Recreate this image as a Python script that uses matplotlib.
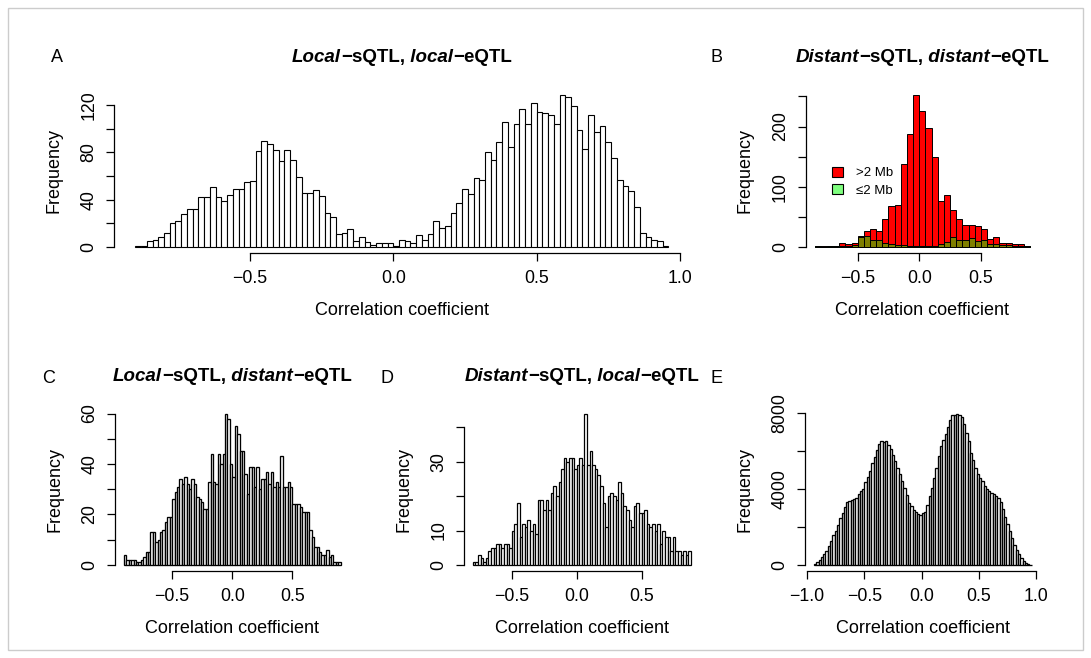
import matplotlib
matplotlib.use('Agg')
import matplotlib.pyplot as plt
import numpy as np
from matplotlib.patches import Patch, Rectangle

plt.rcParams['font.family'] = ['Liberation Sans', 'DejaVu Sans']

# ---------------- data ----------------
# Panel A: local-sQTL, local-eQTL (bins of 0.02 starting at -0.90)
A_start, A_bw = -0.90, 0.02
A_counts = [1, 1, 5, 6, 8, 12, 20, 22, 28, 32, 32, 42, 42, 51, 42, 39, 44, 49, 49, 55,
            56, 81, 90, 87, 82, 73, 82, 74, 59, 46, 46, 48, 43, 29, 25, 11, 12, 15, 5, 8,
            4, 2, 3, 3, 3,
            1, 6, 5, 3, 10, 6, 11, 22, 16, 18, 29, 37, 49, 45, 58, 57, 80, 74, 89, 106,
            85, 104, 117, 104, 122, 114, 113, 112, 104, 129, 127, 119, 99, 83, 112, 97,
            102, 89, 75, 57, 52, 47, 34, 12, 8, 6, 5, 1]

# Panel B: distant-sQTL, distant-eQTL (bins of 0.05 starting at -0.85)
B_start, B_bw = -0.85, 0.05
B_far = [1, 1, 2, 2, 6, 4, 6, 18, 27, 30, 27, 47, 68, 70, 138, 188, 253, 225, 197, 150,
         76, 86, 62, 46, 37, 37, 34, 30, 13, 16, 6, 6, 5, 5, 2]
B_near = [1, 0, 1, 1, 2, 1, 3, 16, 18, 12, 11, 6, 4, 3, 3, 2, 2, 2, 2, 2,
          4, 8, 16, 11, 11, 14, 9, 12, 4, 4, 3, 3, 2, 2, 1]
B_labels = ['>2 Mb', '\u22642 Mb']

# Panel C: local-sQTL, distant-eQTL
C_start, C_bw = -0.90, 0.02
C_counts = [4, 2, 2, 2, 2, 1, 1, 2, 3, 5, 5, 13, 13, 9, 10, 13, 14, 17, 19, 19,
            26, 29, 31, 34, 32, 35, 32, 30, 34, 32, 27, 26, 25, 22, 22, 33, 44, 33, 32, 44,
            40, 44, 60, 58, 40, 35, 55, 52, 45, 45, 36, 28, 39, 39, 31, 39, 30, 34, 34, 37,
            32, 37, 31, 33, 31, 43, 31, 31, 33, 31, 24, 24, 24, 23, 21, 21, 21, 14, 11, 7,
            7, 5, 4, 4, 6, 3, 4, 1, 1, 1]

# Panel D: distant-sQTL, local-eQTL
D_start, D_bw = -0.80, 0.02
D_counts = [1, 1, 3, 2, 1, 2, 4, 5, 5, 6, 6, 5, 6, 6, 5, 10, 12, 18, 8, 12,
            11, 13, 10, 12, 9, 19, 19, 16, 19, 16, 21, 23, 20, 24, 28, 31, 30, 31, 31, 28,
            29, 31, 29, 44, 29, 33, 29, 28, 26, 23, 18, 11, 20, 21, 20, 19, 24, 21, 17, 16,
            13, 11, 17, 18, 15, 15, 16, 12, 11, 12, 10, 12, 6, 10, 8, 8, 4, 8, 4, 4,
            3, 4, 3, 4]

# Panel E: all pairs
E_start, E_bw = -0.94, 0.02
E_counts = [50, 150, 250, 400, 550, 750, 1000, 1250, 1550, 1800,
            2100, 2450, 2750, 3050, 3300, 3380, 3420, 3450, 3520, 3700,
            3900, 4000, 4350, 4600, 4950, 5350, 5650, 6050, 6350, 6500,
            6450, 6500, 6300, 6100, 5750, 5450, 5100, 4800, 4400, 4050,
            3650, 3250, 3100, 2900, 2800, 2650, 2600, 2750, 2800, 3150,
            3600, 4050, 4550, 5100, 5700, 6250, 6550, 6900, 7250, 7600,
            7850, 7900, 7950, 7900, 7750, 7400, 6950, 6500, 5900, 5500,
            5100, 4800, 4550, 4400, 4150, 4000, 3900, 3800, 3700, 3600,
            3500, 3300, 2950, 2500, 2150, 1800, 1400, 1050, 800, 550,
            350, 200, 100, 50, 10]

XLABEL = 'Correlation coefficient'
YLABEL = 'Frequency'

# ---------------- figure ----------------
W, H = 1091, 658
fig = plt.figure(figsize=(W / 100, H / 100), dpi=100)


def fx(px):
    return px / W


def fy(py):
    return 1 - py / H


def make_ax(l, r, t, b):
    return fig.add_axes([l / W, 1 - b / H, (r - l) / W, (b - t) / H])


def edges_of(start, bw, n):
    return np.round(start + bw * np.arange(n + 1), 4)


def style(ax, edges, counts, ymaj, ymin, xticks):
    lo, hi = edges[0], edges[-1]
    pad = 0.04 * (hi - lo)
    ax.set_xlim(lo - pad, hi + pad)
    m = max(counts)
    ax.set_ylim(-0.04 * m, 1.04 * m)
    for s in ['top', 'right']:
        ax.spines[s].set_visible(False)
    allt = list(ymaj) + list(ymin)
    ax.spines['left'].set_bounds(min(allt), max(allt))
    ax.spines['bottom'].set_bounds(xticks[0], xticks[-1])
    for s in ['left', 'bottom']:
        ax.spines[s].set_linewidth(0.9)
    ax.set_xticks(xticks)
    ax.set_xticklabels([f'{v:.1f}'.replace('-', '\u2212') for v in xticks])
    ax.set_yticks(ymaj)
    ax.set_yticklabels([str(int(v)) for v in ymaj])
    ax.set_yticks(ymin, minor=True)
    ax.tick_params(which='both', length=6.1, width=0.9, direction='out',
                   labelsize=12.8, color='black')
    ax.tick_params(axis='x', pad=6)
    ax.tick_params(axis='y', pad=6)
    for lab in ax.get_yticklabels():
        lab.set_rotation(90)
        lab.set_va('center')
    ax.patch.set_alpha(0)


def labels(ax_l, ax_r, ax_t, ax_b):
    fig.text(fx(ax_l - 60.5), fy((ax_t + ax_b) / 2), YLABEL, rotation=90,
             ha='center', va='center', fontsize=13)
    fig.text(fx((ax_l + ax_r) / 2), fy(ax_b + 62), XLABEL, ha='center',
             va='baseline', fontsize=13)


def mixed_title(cx, base, parts, fs=13.5):
    r = fig.canvas.get_renderer()
    ts = []
    for s, it in parts:
        t = fig.text(0, fy(base), s, fontsize=fs, fontweight='bold',
                     fontstyle='italic' if it else 'normal', ha='left', va='baseline')
        ts.append(t)
    ws = [t.get_window_extent(renderer=r).width for t in ts]
    x = cx - sum(ws) / 2
    for t, w in zip(ts, ws):
        t.set_x(fx(x))
        x += w


TOP1, BOT1 = 88.5, 253.0
TOP2, BOT2 = 407.5, 571.0

# Panel A
pA = (114.0, 689.8, TOP1, BOT1)
axA = make_ax(*pA)
eA = edges_of(A_start, A_bw, len(A_counts))
axA.bar(eA[:-1], A_counts, width=A_bw, align='edge', facecolor='white',
        edgecolor='black', linewidth=0.8)
style(axA, eA, A_counts, [0, 40, 80, 120], [20, 60, 100], [-0.5, 0.0, 0.5, 1.0])
labels(*pA)

# Panel B
pB = (805.9, 1038.9, TOP1, BOT1)
axB = make_ax(*pB)
eB = edges_of(B_start, B_bw, len(B_far))
axB.bar(eB[:-1], B_far, width=B_bw, align='edge', facecolor='red',
        edgecolor='black', linewidth=0.7)
axB.bar(eB[:-1], B_near, width=B_bw, align='edge', facecolor=(0, 1, 0, 0.5),
        edgecolor='black', linewidth=0.7)
style(axB, eB, B_far, [0, 100, 200], [50, 150, 250], [-0.5, 0.0, 0.5])
labels(*pB)
handles = [Patch(facecolor='red', edgecolor='black', linewidth=0.8),
           Patch(facecolor=(0, 1, 0, 0.5), edgecolor='black', linewidth=0.8)]
axB.legend(handles, B_labels, loc='center left', bbox_to_anchor=(fx(832), fy(181.7)),
           bbox_transform=fig.transFigure, frameon=False, fontsize=9.5,
           handlelength=0.8, handleheight=0.8, handletextpad=1.0, labelspacing=0.35,
           borderpad=0, borderaxespad=0)

# Panel C
pC = (115.3, 349.3, TOP2, BOT2)
axC = make_ax(*pC)
eC = edges_of(C_start, C_bw, len(C_counts))
axC.bar(eC[:-1], C_counts, width=C_bw, align='edge', facecolor='white',
        edgecolor='black', linewidth=0.95)
style(axC, eC, C_counts, [0, 20, 40, 60], [10, 30, 50], [-0.5, 0.0, 0.5])
labels(*pC)

# Panel D
pD = (464.0, 699.8, TOP2, BOT2)
axD = make_ax(*pD)
eD = edges_of(D_start, D_bw, len(D_counts))
axD.bar(eD[:-1], D_counts, width=D_bw, align='edge', facecolor='white',
        edgecolor='black', linewidth=0.9)
style(axD, eD, D_counts, [0, 10, 30], [20, 40], [-0.5, 0.0, 0.5])
labels(*pD)

# Panel E
pE = (805.3, 1040.4, TOP2, BOT2)
axE = make_ax(*pE)
eE = edges_of(E_start, E_bw, len(E_counts))
axE.bar(eE[:-1], E_counts, width=E_bw, align='edge', facecolor='white',
        edgecolor='black', linewidth=0.95)
style(axE, eE, E_counts, [0, 4000, 8000], [2000, 6000], [-1.0, -0.5, 0.0, 0.5, 1.0])
labels(*pE)

# Titles
mixed_title((pA[0] + pA[1]) / 2, 62.4,
            [('Local', True), ('\u2212sQTL,', False), (' local', True), ('\u2212eQTL', False)])
mixed_title((pB[0] + pB[1]) / 2, 62.4,
            [('Distant', True), ('\u2212sQTL,', False), (' distant', True), ('\u2212eQTL', False)])
mixed_title((pC[0] + pC[1]) / 2, 381.3,
            [('Local', True), ('\u2212sQTL,', False), (' distant', True), ('\u2212eQTL', False)])
mixed_title((pD[0] + pD[1]) / 2, 381.3,
            [('Distant', True), ('\u2212sQTL,', False), (' local', True), ('\u2212eQTL', False)])

# Panel letters
for let, x, y in [('A', 56.5, 62), ('B', 717, 62), ('C', 49, 383), ('D', 387, 383), ('E', 716, 383)]:
    fig.text(fx(x), fy(y), let, ha='center', va='baseline', fontsize=13)

# Outer frame
fig.patches.append(Rectangle((fx(8), fy(650)), fx(1083) - fx(8), fy(8) - fy(650),
                             transform=fig.transFigure, fill=False,
                             edgecolor='#cccccc', linewidth=1))

fig.savefig('out.png', dpi=100)
